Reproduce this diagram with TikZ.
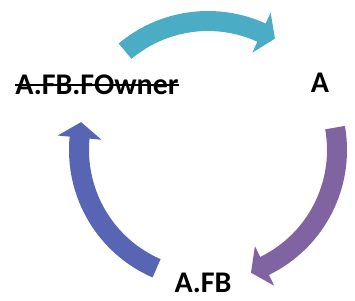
\documentclass[tikz,border=0pt]{standalone}
\usepackage{fontspec}
\setmainfont{Carlito}
\usepackage{xcolor}
\usetikzlibrary{positioning}
\definecolor{cyclecyan}{HTML}{4BACC6}
\definecolor{cyclepurple}{HTML}{8064A2}
\definecolor{cycleblue}{HTML}{5765B4}

\begin{document}
\begin{tikzpicture}[
  x=1pt,y=1pt,
  lbl/.style={inner sep=0pt,font=\fontsize{30}{32}\selectfont\bfseries},
  strike/.style={line width=2pt,black},
]
\useasboundingbox (0,0) rectangle (355,300);
\coordinate (hub) at (208,150);
% block arrows of the cycle: colour / tail / head base / tip angle
\foreach \col/\ta/\ba/\pa in {cyclecyan/130/65.5/59, cyclepurple/10/-64/-70.7, cycleblue/246.5/174.5/167.6}
  \fill[\col,shift={(hub)}] (\ta:139) arc[start angle=\ta,end angle=\ba,radius=139]
    -- (\ba:151) -- (\pa:130) -- (\ba:107) -- (\ba:119)
    arc[start angle=\ba,end angle=\ta,radius=119] -- cycle;
\node[lbl] (owner) at (97,215) {A.FB.FOwner};
\node[lbl] (a) at (320,217) {A};
\node[lbl] (afb) at (203,17) {A.FB};
\draw[strike] ([yshift=10pt]owner.base west) -- ([yshift=10pt]owner.base east);
\end{tikzpicture}
\end{document}
